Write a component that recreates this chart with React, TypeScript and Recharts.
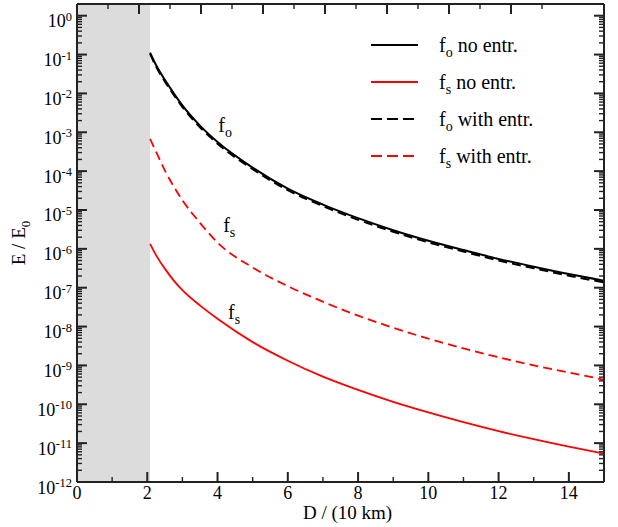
import React from "react";
import {
  LineChart,
  Line,
  XAxis,
  YAxis,
  ReferenceArea,
  ReferenceDot,
  Legend,
} from "recharts";

const FONT = '"Liberation Serif", "Times New Roman", serif';
const AXIS = "#222";

// distance D / (10 km)
const distance = [2.08, 2.25, 2.5, 2.75, 3, 3.5, 4, 5, 6, 7, 8, 9, 10, 11, 12, 13, 14, 15];

// E / E0
const foNoEntr = [
  1.12e-1, 5.37e-2, 2.24e-2, 1.02e-2, 4.9e-3, 1.48e-3, 5.62e-4, 1.23e-4, 3.55e-5,
  1.38e-5, 6.17e-6, 3.02e-6, 1.62e-6, 9.33e-7, 5.5e-7, 3.47e-7, 2.24e-7, 1.51e-7,
];
const fsNoEntr = [
  1.35e-6, 6.9e-7, 3.1e-7, 1.55e-7, 8.7e-8, 3.5e-8, 1.58e-8, 3.98e-9, 1.32e-9,
  5.13e-10, 2.34e-10, 1.15e-10, 6.17e-11, 3.47e-11, 2.04e-11, 1.26e-11, 8.13e-12, 5.37e-12,
];
const foWithEntr = [
  1.04e-1, 4.9e-2, 2.04e-2, 9.3e-3, 4.46e-3, 1.35e-3, 5.1e-4, 1.12e-4, 3.23e-5,
  1.26e-5, 5.6e-6, 2.75e-6, 1.47e-6, 8.5e-7, 5.0e-7, 3.16e-7, 2.04e-7, 1.37e-7,
];
const fsWithEntr = [
  6.76e-4, 3.16e-4, 1.05e-4, 4.07e-5, 1.78e-5, 4.68e-6, 1.45e-6, 3.31e-7, 1.1e-7,
  4.37e-8, 1.91e-8, 9.33e-9, 4.9e-9, 2.75e-9, 1.62e-9, 1.0e-9, 6.61e-10, 4.27e-10,
];

const shadedEnd = 2.08;
const xTicks = [0, 1, 2, 3, 4, 5, 6, 7, 8, 9, 10, 11, 12, 13, 14, 15];
const yDecades = [-12, -11, -10, -9, -8, -7, -6, -5, -4, -3, -2, -1, 0];
const yMinorSteps = [2, 3, 4, 5, 6, 7, 8, 9];
const yMax = 2;

const curveLabels = [
  { x: 4.02, y: 1.0e-3, sub: "o" },
  { x: 4.16, y: 2.7e-6, sub: "s" },
  { x: 4.3, y: 1.6e-8, sub: "s" },
];

const legendItems = [
  { sub: "o", text: " no entr.", color: "#000", dash: undefined },
  { sub: "s", text: " no entr.", color: "#ff0000", dash: undefined },
  { sub: "o", text: " with entr.", color: "#000", dash: "11 5" },
  { sub: "s", text: " with entr.", color: "#ff0000", dash: "11 5" },
];

const chartData = distance.map((d, i) => ({
  d,
  foNo: foNoEntr[i],
  fsNo: fsNoEntr[i],
  foWith: foWithEntr[i],
  fsWith: fsWithEntr[i],
}));

const yTicks = yDecades
  .flatMap((e) => [Math.pow(10, e), ...yMinorSteps.map((m) => m * Math.pow(10, e))])
  .filter((v) => v <= yMax * 1.0001);

const isMajor = (v: number) => {
  const e = Math.round(Math.log10(v));
  return Math.abs(v - Math.pow(10, e)) < v * 1e-6;
};

const LeftTick = (props: any) => {
  const { x, y, payload } = props;
  const v = payload.value;
  const major = isMajor(v);
  const e = Math.round(Math.log10(v));
  return (
    <g>
      <line x1={x} x2={x + (major ? 10 : 5)} y1={y} y2={y} stroke={AXIS} strokeWidth={major ? 2 : 1.4} />
      {major && (
        <text x={x - 5} y={y + 11.5} textAnchor="end" fontSize={18} fontFamily={FONT} fill="#000">
          10
          <tspan dy={-6.5} fontSize={12.5}>
            {e}
          </tspan>
        </text>
      )}
    </g>
  );
};

const RightTick = (props: any) => {
  const { x, y, payload } = props;
  const major = isMajor(payload.value);
  return <line x1={x} x2={x - (major ? 10 : 5)} y1={y} y2={y} stroke={AXIS} strokeWidth={major ? 2 : 1.4} />;
};

const BottomTick = (props: any) => {
  const { x, y, payload } = props;
  const major = payload.value % 2 === 0;
  return (
    <g>
      <line x1={x} x2={x} y1={y} y2={y - (major ? 10 : 5)} stroke={AXIS} strokeWidth={major ? 2 : 1.4} />
      {major && (
        <text x={x} y={y + 17} textAnchor="middle" fontSize={18} fontFamily={FONT} fill="#000">
          {payload.value}
        </text>
      )}
    </g>
  );
};

const TopTick = (props: any) => {
  const { x, y, payload } = props;
  const major = payload.value % 2 === 0;
  return <line x1={x} x2={x} y1={y} y2={y + (major ? 10 : 5)} stroke={AXIS} strokeWidth={major ? 2 : 1.4} />;
};

const YTitle = (props: any) => {
  const { viewBox } = props;
  const cx = viewBox.x + viewBox.width - 52;
  const cy = viewBox.y + viewBox.height / 2;
  return (
    <text
      x={cx}
      y={cy}
      transform={`rotate(-90 ${cx} ${cy})`}
      textAnchor="middle"
      fontSize={19}
      fontFamily={FONT}
      fill="#000"
    >
      E / E
      <tspan dy={5} fontSize={13}>
        0
      </tspan>
    </text>
  );
};

const XTitle = (props: any) => {
  const { viewBox } = props;
  return (
    <text
      x={viewBox.x + viewBox.width / 2 + 7}
      y={viewBox.y + 37}
      textAnchor="middle"
      fontSize={19}
      fontFamily={FONT}
      fill="#000"
    >
      D / (10 km)
    </text>
  );
};

const CurveLabel = (sub: string) => (props: any) => (
  <text x={props.cx} y={props.cy} fontSize={20} fontFamily={FONT} fill="#000">
    f
    <tspan dy={5} fontSize={14}>
      {sub}
    </tspan>
  </text>
);

const LegendBox = () => (
  <svg width={230} height={150} style={{ display: "block" }}>
    {legendItems.map((item, i) => {
      const cy = 20 + i * 37;
      return (
        <g key={i}>
          <line x1={11} x2={58} y1={cy} y2={cy} stroke={item.color} strokeWidth={2} strokeDasharray={item.dash} />
          <text x={79} y={cy + 7} fontSize={20} fontFamily={FONT} fill="#000">
            f
            <tspan dy={5} fontSize={14}>
              {item.sub}
            </tspan>
            <tspan dy={-5}>{item.text}</tspan>
          </text>
        </g>
      );
    })}
  </svg>
);

export default function App() {
  return (
    <div style={{ position: "absolute", left: 0, top: 0, width: 618, height: 527, background: "#fff" }}>
      <LineChart width={618} height={527} data={chartData} margin={{ top: 3, right: 13, bottom: 44, left: 76 }}>
        <ReferenceArea x1={0} x2={shadedEnd} fill="#dcdcdc" fillOpacity={1} stroke="none" />
        <XAxis
          dataKey="d"
          type="number"
          domain={[0, 15]}
          ticks={xTicks}
          interval={0}
          height={1}
          tickSize={0}
          tickMargin={0}
          tickLine={false}
          tick={<BottomTick />}
          axisLine={{ stroke: AXIS, strokeWidth: 2 }}
          allowDataOverflow
          label={<XTitle />}
        />
        <XAxis
          xAxisId="top"
          orientation="top"
          type="number"
          domain={[0, 15]}
          ticks={xTicks}
          interval={0}
          height={1}
          tickSize={0}
          tickMargin={0}
          tickLine={false}
          tick={<TopTick />}
          axisLine={{ stroke: AXIS, strokeWidth: 2 }}
          allowDataOverflow
        />
        <YAxis
          scale="log"
          type="number"
          domain={[1e-12, yMax]}
          ticks={yTicks}
          interval={0}
          width={1}
          tickSize={0}
          tickMargin={0}
          tickLine={false}
          tick={<LeftTick />}
          axisLine={{ stroke: AXIS, strokeWidth: 2 }}
          allowDataOverflow
          label={<YTitle />}
        />
        <YAxis
          yAxisId="right"
          orientation="right"
          scale="log"
          type="number"
          domain={[1e-12, yMax]}
          ticks={yTicks}
          interval={0}
          width={1}
          tickSize={0}
          tickMargin={0}
          tickLine={false}
          tick={<RightTick />}
          axisLine={{ stroke: AXIS, strokeWidth: 2 }}
          allowDataOverflow
        />
        <Line type="monotone" dataKey="fsWith" stroke="#ff0000" strokeWidth={1.8} strokeDasharray="9 5" dot={false} isAnimationActive={false} />
        <Line type="monotone" dataKey="fsNo" stroke="#ff0000" strokeWidth={1.8} dot={false} isAnimationActive={false} />
        <Line type="monotone" dataKey="foWith" stroke="#000" strokeWidth={2} strokeDasharray="9 5" dot={false} isAnimationActive={false} />
        <Line type="monotone" dataKey="foNo" stroke="#000" strokeWidth={2} dot={false} isAnimationActive={false} />
        {curveLabels.map((l, i) => (
          <ReferenceDot key={i} x={l.x} y={l.y} r={0} shape={CurveLabel(l.sub)} />
        ))}
        <Legend
          layout="horizontal"
          verticalAlign="middle"
          align="center"
          content={<LegendBox />}
          wrapperStyle={{ top: 25, left: 360, width: 230, height: 150 }}
        />
      </LineChart>
    </div>
  );
}
